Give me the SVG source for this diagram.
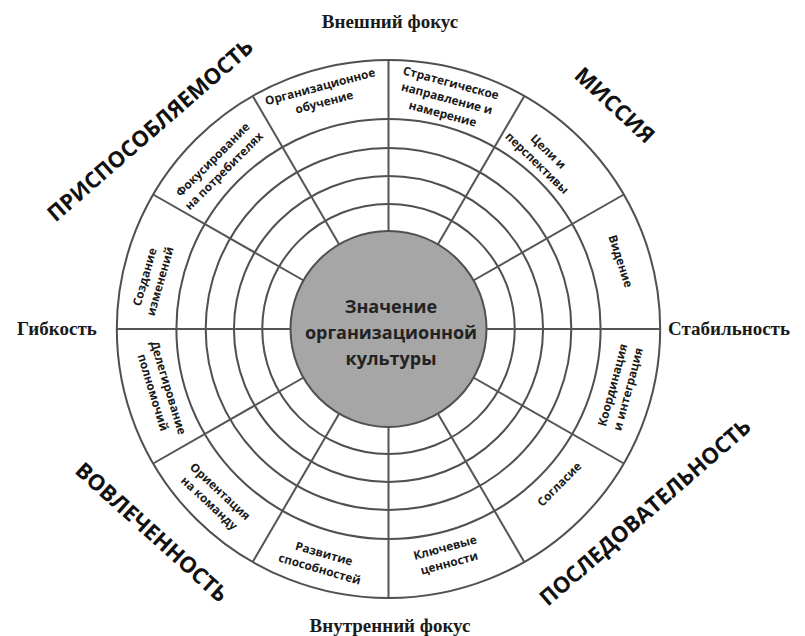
<svg xmlns="http://www.w3.org/2000/svg" width="805" height="636" viewBox="0 0 805 636">
<style>
.ring{fill:none;stroke:#505050;stroke-width:2}
.spoke{stroke:#555;stroke-width:2}
.cell{font-family:"Open Sans","DejaVu Sans",sans-serif;font-weight:700;font-size:11.8px;fill:#1a1a1a;text-anchor:middle}
.title{font-family:"Open Sans","DejaVu Sans",sans-serif;font-weight:700;font-size:18px;fill:#222;text-anchor:middle}
.quad{font-family:"Open Sans","DejaVu Sans",sans-serif;font-weight:700;font-size:22px;fill:#111;text-anchor:middle}
.axis{font-family:"Liberation Serif","Times New Roman",serif;font-weight:700;font-size:19px;fill:#1a1a1a}
</style>
<rect width="805" height="636" fill="#fff"/>
<g id="wheel" transform="translate(388.5,329) scale(1.01,1)">
  <circle r="269" fill="#fff" class="ring"/>
  <circle r="210" fill="#dedede" class="ring"/>
  <circle r="181" class="ring"/>
  <circle r="153" class="ring"/>
  <circle r="125" class="ring"/>
</g>
<g id="connectors" transform="translate(388.5,329) scale(1.01,1)">
  <line class="spoke" x1="97" y1="0" x2="269" y2="0"/>
  <line class="spoke" x1="84" y1="-48.5" x2="233" y2="-134.5"/>
  <line class="spoke" x1="48.5" y1="-84" x2="134.5" y2="-233"/>
  <line class="spoke" x1="0" y1="-97" x2="0" y2="-269"/>
  <line class="spoke" x1="-48.5" y1="-84" x2="-134.5" y2="-233"/>
  <line class="spoke" x1="-84" y1="-48.5" x2="-233" y2="-134.5"/>
  <line class="spoke" x1="-97" y1="0" x2="-269" y2="0"/>
  <line class="spoke" x1="-84" y1="48.5" x2="-233" y2="134.5"/>
  <line class="spoke" x1="-48.5" y1="84" x2="-134.5" y2="233"/>
  <line class="spoke" x1="0" y1="97" x2="0" y2="269"/>
  <line class="spoke" x1="48.5" y1="84" x2="134.5" y2="233"/>
  <line class="spoke" x1="84" y1="48.5" x2="233" y2="134.5"/>
</g>
<g id="center">
  <circle cx="388.5" cy="329" r="98" fill="#a6a6a6" stroke="#505050" stroke-width="2"/>
  <text class="title" x="391" y="313">Значение</text>
  <text class="title" x="391" y="339">организационной</text>
  <text class="title" x="391" y="365">культуры</text>
</g>
<g id="org-learning" transform="translate(322,94) rotate(-15)"><text class="cell"><tspan x="0" y="-3.5">Организационное</tspan><tspan x="0" y="12.5">обучение</tspan></text></g>
<g id="strategic" transform="translate(447,98) rotate(15)"><text class="cell"><tspan x="0" y="-11.5">Стратегическое</tspan><tspan x="0" y="4.5">направление и</tspan><tspan x="0" y="20.5">намерение</tspan></text></g>
<g id="goals" transform="translate(543,157) rotate(44)"><text class="cell"><tspan x="0" y="-3.5">Цели и</tspan><tspan x="0" y="12.5">перспективы</tspan></text></g>
<g id="vision" transform="translate(621,261) rotate(72)"><text class="cell"><tspan x="0" y="4.5">Видение</tspan></text></g>
<g id="customer" transform="translate(218,165) rotate(-45)"><text class="cell"><tspan x="0" y="-3.5">Фокусирование</tspan><tspan x="0" y="12.5">на потребителях</tspan></text></g>
<g id="change" transform="translate(152,279) rotate(-74)"><text class="cell"><tspan x="0" y="-3.5">Создание</tspan><tspan x="0" y="12.5">изменений</tspan></text></g>
<g id="delegation" transform="translate(161,390) rotate(73)"><text class="cell"><tspan x="0" y="-3.5">Делегирование</tspan><tspan x="0" y="12.5">полномочий</tspan></text></g>
<g id="team" transform="translate(215,497) rotate(43)"><text class="cell"><tspan x="0" y="-3.5">Ориентация</tspan><tspan x="0" y="12.5">на команду</tspan></text></g>
<g id="capability" transform="translate(322,561) rotate(16)"><text class="cell"><tspan x="0" y="-3.5">Развитие</tspan><tspan x="0" y="12.5">способностей</tspan></text></g>
<g id="values" transform="translate(447,555) rotate(-15)"><text class="cell"><tspan x="0" y="-3.5">Ключевые</tspan><tspan x="0" y="12.5">ценности</tspan></text></g>
<g id="agreement" transform="translate(559,484) rotate(-45)"><text class="cell"><tspan x="0" y="4.5">Согласие</tspan></text></g>
<g id="coordination" transform="translate(620,387) rotate(-75)"><text class="cell"><tspan x="0" y="-3.5">Координация</tspan><tspan x="0" y="12.5">и интеграция</tspan></text></g>
<g id="quadrants">
  <text class="quad" transform="translate(150,130) rotate(-41)" y="8">ПРИСПОСОБЛЯЕМОСТЬ</text>
  <text class="quad" transform="translate(615,105) rotate(43)" y="8">МИССИЯ</text>
  <text class="quad" transform="translate(152,532) rotate(42)" y="8">ВОВЛЕЧЕННОСТЬ</text>
  <text class="quad" transform="translate(645,512) rotate(-41)" y="8">ПОСЛЕДОВАТЕЛЬНОСТЬ</text>
</g>
<g id="axes">
  <text class="axis" x="390" y="28" text-anchor="middle">Внешний фокус</text>
  <text class="axis" x="390" y="632" text-anchor="middle">Внутренний фокус</text>
  <text class="axis" x="17" y="335">Гибкость</text>
  <text class="axis" x="668" y="335">Стабильность</text>
</g>
</svg>
